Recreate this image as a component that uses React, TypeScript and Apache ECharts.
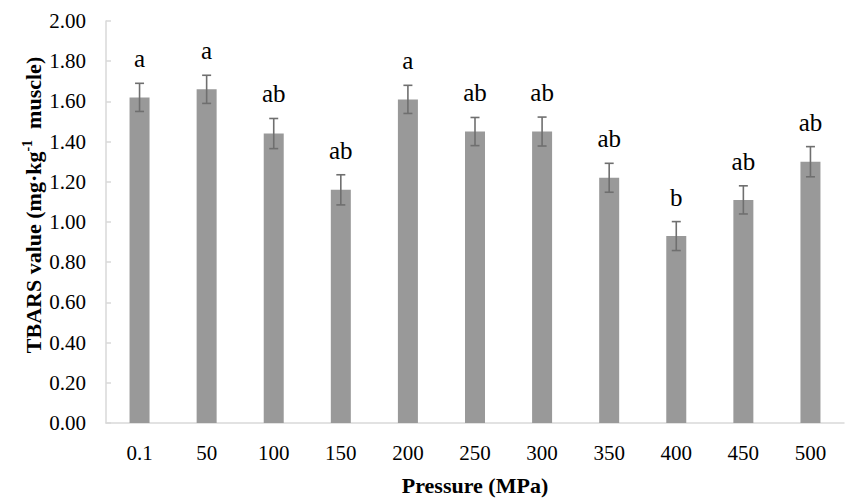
import React, { useEffect, useRef } from "react";
import * as echarts from "echarts";

const categories = ["0.1", "50", "100", "150", "200", "250", "300", "350", "400", "450", "500"];
const means = [1.62, 1.66, 1.44, 1.16, 1.61, 1.45, 1.45, 1.22, 0.93, 1.11, 1.30];
const sds = [0.07, 0.07, 0.075, 0.075, 0.07, 0.07, 0.072, 0.072, 0.072, 0.07, 0.075];
const letters = ["a", "a", "ab", "ab", "a", "ab", "ab", "ab", "b", "ab", "ab"];
const yTicks = { min: 0, max: 2, interval: 0.2 };

const FONT = "'Liberation Serif', 'Times New Roman', serif";

export default function App() {
  const ref = useRef<HTMLDivElement>(null);
  useEffect(() => {
    if (!ref.current) return;
    document.body.style.margin = "0";
    const chart = echarts.init(ref.current, null, { renderer: "svg" });
    const errData = means.map((m, i) => [i, m, sds[i], letters[i]]);
    chart.setOption({
      animation: false,
      backgroundColor: "#ffffff",
      grid: { left: 106, right: 1, top: 21, bottom: 74 },
      xAxis: {
        type: "category",
        data: categories,
        axisLine: { show: true, lineStyle: { color: "#d9d9d9", width: 1.5 } },
        axisTick: { show: false },
        axisLabel: { color: "#000", fontFamily: FONT, fontSize: 21, margin: 19 },
        name: "Pressure (MPa)",
        nameLocation: "middle",
        nameGap: 51,
        nameTextStyle: { color: "#000", fontFamily: FONT, fontSize: 22, fontWeight: "bold" },
      },
      yAxis: {
        type: "value",
        min: yTicks.min,
        max: yTicks.max,
        interval: yTicks.interval,
        axisLine: { show: true, lineStyle: { color: "#d9d9d9", width: 1.5 } },
        axisTick: { show: true, inside: true, length: 5, lineStyle: { color: "#d9d9d9", width: 1.5 } },
        splitLine: { show: false },
        axisLabel: {
          color: "#000",
          fontFamily: FONT,
          fontSize: 21,
          margin: 20,
          formatter: (v: number) => v.toFixed(2),
        },
      },
      series: [
        {
          type: "bar",
          data: means,
          barWidth: 20,
          itemStyle: { color: "#999999" },
        },
        {
          type: "custom",
          data: errData,
          z: 10,
          renderItem: (params: any, api: any) => {
            const i = api.value(0);
            const m = api.value(1);
            const sd = api.value(2);
            const top = api.coord([i, m + sd]);
            const bot = api.coord([i, m - sd]);
            const x = top[0];
            const half = 4.5;
            const style = { stroke: "#6f6f6f", lineWidth: 1.6 };
            return {
              type: "group",
              children: [
                { type: "line", shape: { x1: x, y1: top[1], x2: x, y2: bot[1] }, style },
                { type: "line", shape: { x1: x - half, y1: top[1], x2: x + half, y2: top[1] }, style },
                { type: "line", shape: { x1: x - half, y1: bot[1], x2: x + half, y2: bot[1] }, style },
                {
                  type: "text",
                  x: x,
                  y: top[1] - 12,
                  style: {
                    text: letters[i],
                    fill: "#000",
                    fontFamily: FONT,
                    fontSize: 25,
                    align: "center",
                    verticalAlign: "bottom",
                  },
                },
              ],
            };
          },
        },
      ],
      graphic: [
        {
          type: "text",
          x: 33,
          y: 205,
          rotation: Math.PI / 2,
          style: {
            text: "{b|TBARS value (mg·kg}{s|-1}{b|  muscle)}",
            align: "center",
            verticalAlign: "middle",
            fill: "#000",
            rich: {
              b: { fontFamily: FONT, fontSize: 22, fontWeight: "bold", fill: "#000", lineHeight: 26 },
              s: { fontFamily: FONT, fontSize: 14, fontWeight: "bold", fill: "#000", verticalAlign: "top", lineHeight: 26, padding: [0, 0, 10, 0] },
            },
          },
        },
      ],
    });
    return () => chart.dispose();
  }, []);
  return <div ref={ref} style={{ width: 845, height: 501 }} />;
}
